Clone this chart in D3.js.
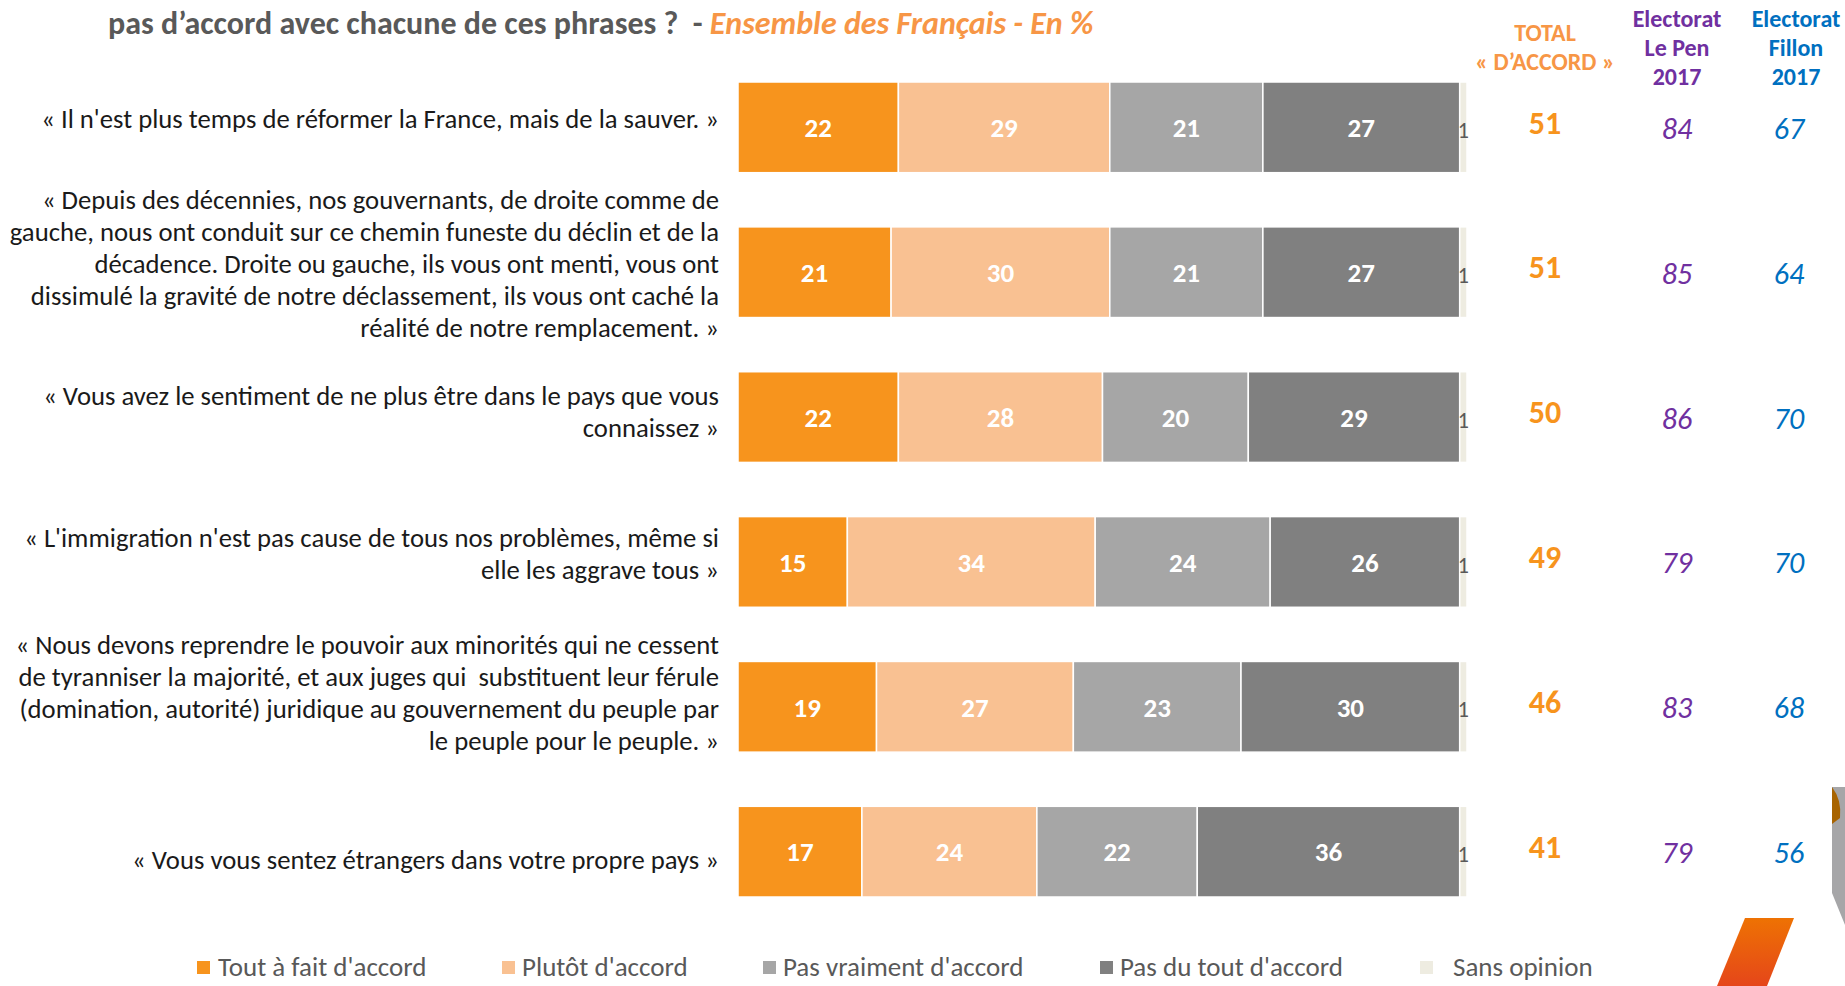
<!DOCTYPE html>
<html>
<head>
<meta charset="utf-8">
<script src="https://cdnjs.cloudflare.com/ajax/libs/d3/7.8.5/d3.min.js"></script>
<style>
  body { margin: 0; background: #fff; }
  svg { display: block; font-family: Carlito, Calibri, Lato, sans-serif; }
</style>
</head>
<body>
<svg id="chart"></svg>
<script>
// statements, one entry per line of the label
const statements = [
    ["« Il n'est plus temps de réformer la France, mais de la sauver. »"],
    ["« Depuis des décennies, nos gouvernants, de droite comme de",
     "gauche, nous ont conduit sur ce chemin funeste du déclin et de la",
     "décadence. Droite ou gauche, ils vous ont menti, vous ont",
     "dissimulé la gravité de notre déclassement, ils vous ont caché la",
     "réalité de notre remplacement. »"],
    ["« Vous avez le sentiment de ne plus être dans le pays que vous",
     "connaissez »"],
    ["« L'immigration n'est pas cause de tous nos problèmes, même si",
     "elle les aggrave tous »"],
    ["« Nous devons reprendre le pouvoir aux minorités qui ne cessent",
     "de tyranniser la majorité, et aux juges qui  substituent leur férule",
     "(domination, autorité) juridique au gouvernement du peuple par",
     "le peuple pour le peuple. »"],
    ["« Vous vous sentez étrangers dans votre propre pays »"]
];

const seriesNames = ["Tout à fait d'accord", "Plutôt d'accord", "Pas vraiment d'accord", "Pas du tout d'accord", "Sans opinion"];

const toutAFait   = [22, 21, 22, 15, 19, 17];
const plutot      = [29, 30, 28, 34, 27, 24];
const pasVraiment = [21, 21, 20, 24, 23, 22];
const pasDuTout   = [27, 27, 29, 26, 30, 36];
const sansOpinion = [1, 1, 1, 1, 1, 1];

const totalAccord = [51, 51, 50, 49, 46, 41];
const lePen       = [84, 85, 86, 79, 83, 79];
const fillon      = [67, 64, 70, 70, 68, 56];

class StackedBarChart {

    constructor(_config) {
        this.config = {
            parentElement: _config.parentElement,
            containerWidth: 1845,
            containerHeight: 986,
            barLeft: 738,
            barRight: 1467,
            barTop: 82,
            barBottom: 897,
            labelRight: 719,
            lineHeight: 32,
            labelShift: [-9, -9, -5, -8, -14, 8],
            colors: ['#F7941D', '#F9C192', '#A6A6A6', '#808080', '#EEECE1']
        }
        this.initVis();
    }

    initVis() {
        let vis = this;

        vis.svg = d3.select(vis.config.parentElement)
            .attr('width', vis.config.containerWidth)
            .attr('height', vis.config.containerHeight);

        vis.xScale = d3.scaleLinear()
            .domain([0, 100])
            .range([vis.config.barLeft, vis.config.barRight]);

        vis.yScale = d3.scaleBand()
            .domain(d3.range(statements.length))
            .range([vis.config.barTop, vis.config.barBottom])
            .paddingInner(0.374)
            .paddingOuter(0);

        vis.colorScale = d3.scaleOrdinal()
            .domain(seriesNames)
            .range(vis.config.colors);

        // build rows for the stack
        vis.rows = statements.map((s, i) => ({
            index: i,
            [seriesNames[0]]: toutAFait[i],
            [seriesNames[1]]: plutot[i],
            [seriesNames[2]]: pasVraiment[i],
            [seriesNames[3]]: pasDuTout[i],
            [seriesNames[4]]: sansOpinion[i]
        }));
        vis.stacked = d3.stack().keys(seriesNames)(vis.rows);

        vis.renderVis();
    }

    renderVis() {
        let vis = this;
        const bw = vis.yScale.bandwidth();

        // title
        const title = vis.svg.append('text')
            .attr('x', 108)
            .attr('y', 34)
            .attr('font-size', 32)
            .attr('font-weight', 'bold')
            .style('white-space', 'pre');
        title.append('tspan')
            .attr('fill', '#595959')
            .text('pas d’accord avec chacune de ces phrases ?  - ');
        title.append('tspan')
            .attr('fill', '#F79646')
            .attr('font-style', 'italic')
            .text('Ensemble des Français - En %');

        // stacked bars
        const layers = vis.svg.selectAll('.layer')
            .data(vis.stacked)
            .join('g')
            .attr('class', 'layer')
            .attr('fill', d => vis.colorScale(d.key));

        layers.selectAll('rect')
            .data(d => d)
            .join('rect')
            .attr('x', d => vis.xScale(d[0]))
            .attr('y', d => vis.yScale(d.data.index))
            .attr('width', d => vis.xScale(d[1]) - vis.xScale(d[0]))
            .attr('height', bw)
            .attr('stroke', '#fff')
            .attr('stroke-width', 1.5);

        // value labels inside the segments
        layers.filter(d => d.key != 'Sans opinion')
            .selectAll('.val')
            .data(d => d)
            .join('text')
            .attr('class', 'val')
            .attr('x', d => (vis.xScale(d[0]) + vis.xScale(d[1])) / 2)
            .attr('y', d => vis.yScale(d.data.index) + bw / 2)
            .attr('dy', '0.36em')
            .attr('text-anchor', 'middle')
            .attr('fill', '#fff')
            .attr('font-size', 27)
            .attr('font-weight', 'bold')
            .text(d => d[1] - d[0]);

        // the small "1" of the sans opinion segment
        layers.filter(d => d.key == 'Sans opinion')
            .selectAll('.val')
            .data(d => d)
            .join('text')
            .attr('class', 'val')
            .attr('x', d => (vis.xScale(d[0]) + vis.xScale(d[1])) / 2)
            .attr('y', d => vis.yScale(d.data.index) + bw / 2 + 3)
            .attr('dy', '0.35em')
            .attr('text-anchor', 'middle')
            .attr('fill', '#595959')
            .attr('font-size', 22)
            .text(d => d[1] - d[0]);

        // statement labels
        const labels = vis.svg.selectAll('.label')
            .data(statements)
            .join('text')
            .attr('class', 'label')
            .attr('text-anchor', 'end')
            .attr('font-size', 26.7)
            .attr('fill', '#1a1a1a')
            .style('white-space', 'pre');

        labels.selectAll('tspan')
            .data((d, i) => d.map((line, j) => ({ line, j, n: d.length, i })))
            .join('tspan')
            .attr('x', vis.config.labelRight)
            .attr('y', d => vis.yScale(d.i) + bw / 2 + vis.config.labelShift[d.i]
                + (d.j - (d.n - 1) / 2) * vis.config.lineHeight)
            .attr('dy', '0.35em')
            .text(d => d.line);

        // side columns
        const columns = [
            { values: totalAccord, x: 1545, color: '#F7941D', weight: 'bold', style: 'normal', size: 32, dy: -5 },
            { values: lePen, x: 1677, color: '#7030A0', weight: 'normal', style: 'italic', size: 30, dy: 1 },
            { values: fillon, x: 1789, color: '#0070C0', weight: 'normal', style: 'italic', size: 30, dy: 1 }
        ];
        columns.forEach(col => {
            vis.svg.append('g')
                .selectAll('text')
                .data(col.values)
                .join('text')
                .attr('x', col.x)
                .attr('y', (d, i) => vis.yScale(i) + bw / 2 + col.dy)
                .attr('dy', '0.35em')
                .attr('text-anchor', 'middle')
                .attr('fill', col.color)
                .attr('font-weight', col.weight)
                .attr('font-style', col.style)
                .attr('font-size', col.size)
                .text(d => d);
        });

        // column headers
        const headers = [
            { lines: ['TOTAL', '« D’ACCORD »'], ys: [33, 62], x: 1545, color: '#F79646', size: 24 },
            { lines: ['Electorat', 'Le Pen', '2017'], ys: [19, 48, 77], x: 1677, color: '#7030A0', size: 24 },
            { lines: ['Electorat', 'Fillon', '2017'], ys: [19, 48, 77], x: 1796, color: '#0070C0', size: 24 }
        ];
        headers.forEach(h => {
            vis.svg.append('text')
                .attr('text-anchor', 'middle')
                .attr('fill', h.color)
                .attr('font-weight', 'bold')
                .attr('font-size', h.size)
                .selectAll('tspan')
                .data(h.lines)
                .join('tspan')
                .attr('x', h.x)
                .attr('y', (d, i) => h.ys[i])
                .attr('dy', '0.35em')
                .text(d => d);
        });

        // legend
        const legendX = [197, 502, 763, 1100, 1420];
        const legendTextX = [218, 522, 783, 1120, 1453];
        const legend = vis.svg.selectAll('.legend')
            .data(seriesNames)
            .join('g')
            .attr('class', 'legend');
        legend.append('rect')
            .attr('x', (d, i) => legendX[i])
            .attr('y', 961)
            .attr('width', 13)
            .attr('height', 13)
            .attr('fill', d => vis.colorScale(d));
        legend.append('text')
            .attr('x', (d, i) => legendTextX[i])
            .attr('y', 967)
            .attr('dy', '0.35em')
            .attr('font-size', 27)
            .attr('fill', '#595959')
            .text(d => d);

        // decorative shapes, bottom right corner
        const defs = vis.svg.append('defs');
        const grad = defs.append('linearGradient')
            .attr('id', 'orangeGrad')
            .attr('x1', 0).attr('y1', 0).attr('x2', 0).attr('y2', 1);
        grad.append('stop').attr('offset', '0%').attr('stop-color', '#EE7203');
        grad.append('stop').attr('offset', '100%').attr('stop-color', '#E5461A');

        vis.svg.append('path')
            .attr('d', 'M1745,918 L1794,918 L1767,986 L1717,986 Z')
            .attr('fill', 'url(#orangeGrad)');
        vis.svg.append('path')
            .attr('d', 'M1832,787 L1845,787 L1845,925 L1832,893 Z')
            .attr('fill', '#A6A6A8');
        vis.svg.append('path')
            .attr('d', 'M1832,787 Q1842,800 1840,818 L1832,824 Z')
            .attr('fill', '#A86400');
    }
}

let chart = new StackedBarChart({ parentElement: '#chart' });
</script>
</body>
</html>
